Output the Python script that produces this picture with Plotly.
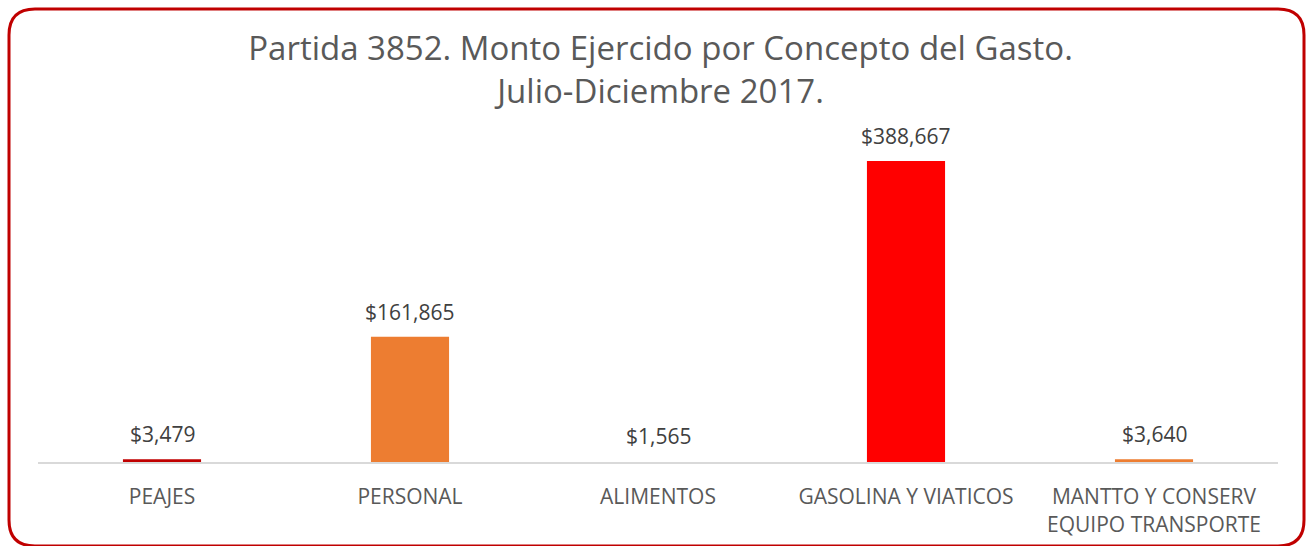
import plotly.graph_objects as go

categories = ["PEAJES", "PERSONAL", "ALIMENTOS", "GASOLINA Y VIATICOS", "MANTTO Y CONSERV<br>EQUIPO TRANSPORTE"]
values = [3479, 161865, 1565, 388667, 3640]
labels = ["$3,479", "$161,865", "$1,565", "$388,667", "$3,640"]
colors = ["#C00000", "#ED7D31", "#FFFFFF", "#FF0000", "#ED7D31"]

W, H = 1308, 546

fig = go.Figure(go.Bar(
    x=categories, y=values,
    marker=dict(color=colors, line=dict(width=0)),
    cliponaxis=False, hoverinfo="skip",
))

for c, v, t in zip(categories, values, labels):
    fig.add_annotation(x=c, y=v, text=t, showarrow=False, xref="x", yref="y",
                       yanchor="bottom", yshift=9,
                       font=dict(size=21, color="#404040", family="Open Sans"))

def px(x):
    return x / W

def py(y):
    return 1 - y / H

# rounded border
x0, y0, x1, y1, r = 9, 9, 1304, 546, 26
path = (f"M {px(x0+r)},{py(y0)} L {px(x1-r)},{py(y0)} "
        f"Q {px(x1)},{py(y0)} {px(x1)},{py(y0+r)} L {px(x1)},{py(y1-r)} "
        f"Q {px(x1)},{py(y1)} {px(x1-r)},{py(y1)} L {px(x0+r)},{py(y1)} "
        f"Q {px(x0)},{py(y1)} {px(x0)},{py(y1-r)} L {px(x0)},{py(y0+r)} "
        f"Q {px(x0)},{py(y0)} {px(x0+r)},{py(y0)} Z")

fig.update_layout(
    width=W, height=H,
    margin=dict(l=0, r=0, t=0, b=0),
    paper_bgcolor="white", plot_bgcolor="white",
    bargap=0.685,
    showlegend=False,
    font=dict(family="Open Sans", color="#595959"),
    title=dict(
        text="Partida 3852. Monto Ejercido por Concepto del Gasto.<br>Julio-Diciembre 2017.",
        x=0.505, xanchor="center", y=py(60), yanchor="middle",
        font=dict(size=33, color="#595959", family="Open Sans"),
    ),
    xaxis=dict(
        domain=[px(38), px(1278)],
        showline=True, linecolor="#D9D9D9", linewidth=2,
        ticks="", showgrid=False,
        tickfont=dict(size=21, color="#595959", family="Open Sans"),
        ticklabelstandoff=15,
    ),
    yaxis=dict(
        domain=[py(462), py(110)],
        range=[0, 388667 * 352 / 301],
        visible=False, showgrid=False, zeroline=False,
    ),
    shapes=[dict(type="path", path=path, xref="paper", yref="paper",
                 line=dict(color="#C00000", width=3), layer="above")],
)

fig.write_html("out.html", config={"displayModeBar": False},
               post_script="document.body.style.margin='0';document.body.style.overflow='hidden';")
